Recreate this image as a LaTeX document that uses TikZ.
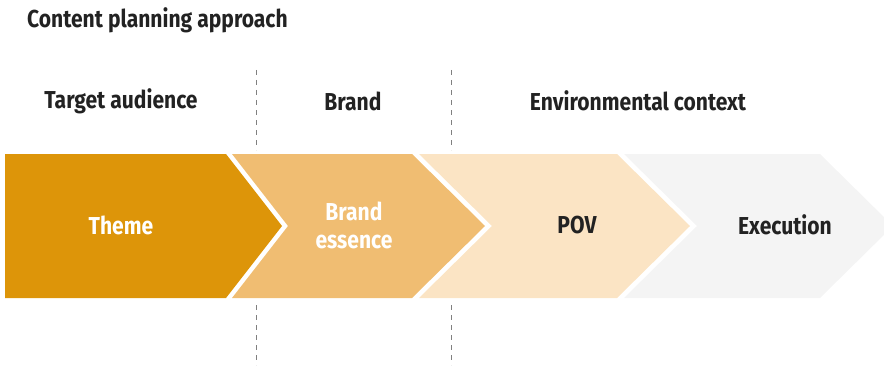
\documentclass[tikz,border=0pt]{standalone}
\usepackage{fontspec}
\setmainfont{Fira Sans}[FakeStretch=0.86]
\definecolor{cDark}{HTML}{DD9509}
\definecolor{cMid}{HTML}{F0BD72}
\definecolor{cLight}{HTML}{FBE4C4}
\definecolor{cGrey}{HTML}{F4F4F4}
\definecolor{cText}{HTML}{222222}
\definecolor{cDash}{HTML}{808080}
\begin{document}
\begin{tikzpicture}[x=1pt,y=1pt,
  lbl/.style={font=\fontsize{24.5}{28}\selectfont\bfseries,text=cText,inner sep=0pt},
  inlbl/.style={font=\fontsize{24.5}{28}\selectfont\bfseries,inner sep=0pt,align=center},
  sep/.style={draw=cDash,line width=1pt,dash pattern=on 5pt off 5pt}]
\useasboundingbox (0,0) rectangle (884,365);
\begin{scope}
\clip (0,0) rectangle (884,365);
\fill[cDark] (5,211) -- (226,211) -- (282,139) -- (226,67) -- (5,67) -- cycle;
\fill[cMid] (232,211) -- (412,211) -- (485,139) -- (412,67) -- (232,67) -- (288,139) -- cycle;
\fill[cLight] (419,211) -- (617,211) -- (690,139) -- (617,67) -- (419,67) -- (492,139) -- cycle;
\fill[cGrey] (624,211) -- (820,211) -- (893,139) -- (820,67) -- (624,67) -- (697,139) -- cycle;
\end{scope}
\coordinate (d1a) at (256,295); \coordinate (d1b) at (256,215);
\coordinate (d1c) at (256,60); \coordinate (d1d) at (256,0);
\coordinate (d2a) at (451,295); \coordinate (d2b) at (451,215);
\coordinate (d2c) at (451,60); \coordinate (d2d) at (451,0);
\draw[sep] (d1a) -- (d1b);
\draw[sep] (d1c) -- (d1d);
\draw[sep] (d2a) -- (d2b);
\draw[sep] (d2c) -- (d2d);
\node[lbl,anchor=west] (title) at (27,345) {Content planning approach};
\node[lbl] (ta) at (121,264) {Target audience};
\node[lbl] (br) at (353,264) {Brand};
\node[lbl] (env) at (638,264) {Environmental context};
\node[inlbl,text=white] (theme) at (121,140) {Theme};
\node[inlbl,text=white] (ess) at (354,140) {Brand\\essence};
\node[inlbl,text=cText] (pov) at (577,140) {POV};
\node[inlbl,text=cText] (exe) at (785,140) {Execution};
\end{tikzpicture}
\end{document}
